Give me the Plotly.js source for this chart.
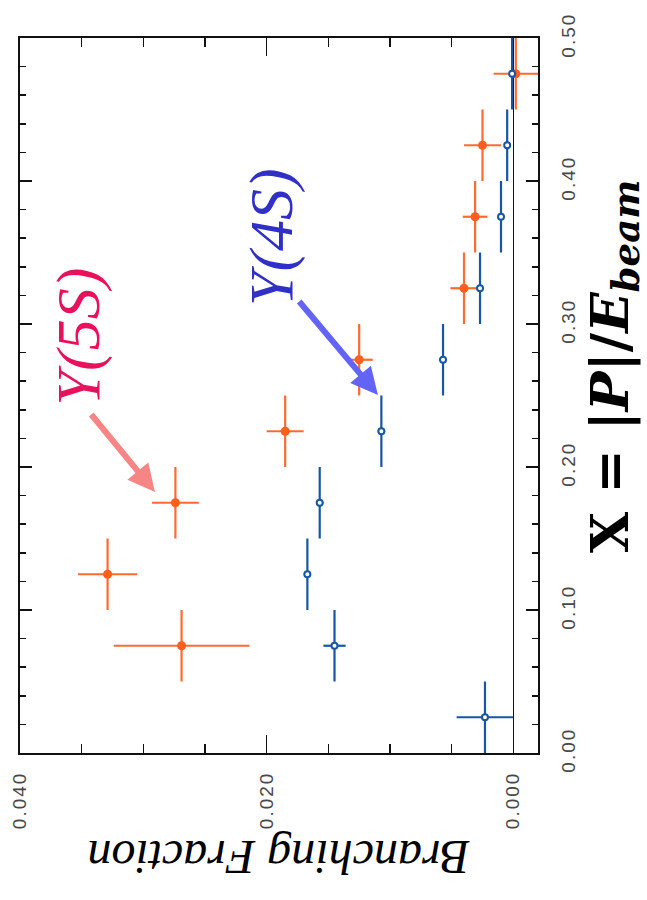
<!DOCTYPE html>
<html>
<head>
<meta charset="utf-8">
<script src="https://cdn.plot.ly/plotly-3.0.1.min.js"></script>
<style>
html,body{margin:0;padding:0;background:#fff;}
#chart{width:647px;height:900px;}
.xtick text, .ytick text{letter-spacing:2px;}
</style>
</head>
<body>
<div id="chart"></div>
<script>
// Υ(4S) data: bin centre in X = |P|/E_beam, branching fraction, errors
const xCenters4S = [0.025, 0.075, 0.125, 0.175, 0.225, 0.275, 0.325, 0.375, 0.425, 0.475];
const xHalfWidth4S = [0.025, 0.025, 0.025, 0.025, 0.025, 0.025, 0.025, 0.025, 0.025, 0.025];
const bf4S = [0.0023, 0.0145, 0.0167, 0.0157, 0.0107, 0.0057, 0.0027, 0.0010, 0.0005, 0.0001];
const bf4SErr = [0.0023, 0.0009, 0.0003, 0.0003, 0.0003, 0.0003, 0.0002, 0.0002, 0.0002, 0.0002];

// Υ(5S) data
const xCenters5S = [0.075, 0.125, 0.175, 0.225, 0.275, 0.325, 0.375, 0.425, 0.475];
const xHalfWidth5S = [0.025, 0.025, 0.025, 0.025, 0.025, 0.025, 0.025, 0.025, 0.025];
const bf5S = [0.0269, 0.0329, 0.0274, 0.0185, 0.0125, 0.0040, 0.0031, 0.0025, -0.0002];
const bf5SErr = [0.0055, 0.0024, 0.0019, 0.0015, 0.0011, 0.0011, 0.0010, 0.0015, 0.0018];

const bfTickVals = [0.04, 0.02, 0.0];
const bfTickText = ['0.040', '0.020', '0.000'];
const xTickVals = [0.0, 0.1, 0.2, 0.3, 0.4, 0.5];
const xTickText = ['0.00', '0.10', '0.20', '0.30', '0.40', '0.50'];

const orange = '#ff5e1e';
const blue = '#1656a6';

const traces = [
  {
    type: 'scatter', mode: 'markers', name: 'Υ(5S)',
    x: bf5S, y: xCenters5S,
    error_x: {type: 'data', array: bf5SErr, visible: true, color: '#ff6a30', thickness: 2.2, width: 0},
    error_y: {type: 'data', array: xHalfWidth5S, visible: true, color: '#ff6a30', thickness: 2.2, width: 0},
    marker: {color: orange, size: 9, symbol: 'circle'}
  },
  {
    type: 'scatter', mode: 'markers', name: 'Υ(4S)',
    x: bf4S, y: xCenters4S,
    error_x: {type: 'data', array: bf4SErr, visible: true, color: blue, thickness: 2.2, width: 0},
    error_y: {type: 'data', array: xHalfWidth4S, visible: true, color: blue, thickness: 2.2, width: 0},
    marker: {color: '#ffffff', size: 6, symbol: 'circle', line: {color: blue, width: 2}}
  }
];

const tickFont = {family: 'Liberation Sans, Arial, sans-serif', size: 19, color: '#484848'};

const layout = {
  width: 647, height: 900,
  margin: {l: 20, r: 109, t: 38, b: 147},
  paper_bgcolor: '#ffffff',
  plot_bgcolor: '#ffffff',
  showlegend: false,
  xaxis: {
    range: [0.040, -0.002],
    showgrid: false,
    zeroline: true, zerolinecolor: '#111', zerolinewidth: 1.5,
    showline: true, linecolor: '#111', linewidth: 2, mirror: 'allticks',
    ticks: 'inside', ticklen: 18, tickwidth: 1.5, tickcolor: '#111',
    tickvals: bfTickVals, ticktext: bfTickText,
    tickangle: -90, tickfont: tickFont, ticklabelstandoff: 9,
    minor: {dtick: 0.005, tick0: 0, ticks: 'inside', ticklen: 9, tickwidth: 1.5, tickcolor: '#111', showgrid: false}
  },
  yaxis: {
    range: [0, 0.5],
    side: 'right',
    showgrid: false, zeroline: false,
    showline: true, linecolor: '#111', linewidth: 2, mirror: 'allticks',
    ticks: 'inside', ticklen: 12, tickwidth: 1.5, tickcolor: '#111',
    tickvals: xTickVals, ticktext: xTickText,
    tickangle: -90, tickfont: tickFont, ticklabelstandoff: 12,
    minor: {dtick: 0.02, tick0: 0, ticks: 'inside', ticklen: 6, tickwidth: 1.5, tickcolor: '#111', showgrid: false}
  },
  annotations: [
    {xref: 'paper', yref: 'paper', x: 0.113, y: 0.582, text: 'Υ(5S)', showarrow: false, textangle: -90,
     font: {family: 'Liberation Serif, Times New Roman, serif', size: 62, color: '#e8125c', style: 'italic'},
     xanchor: 'center', yanchor: 'middle'},
    {xref: 'paper', yref: 'paper', x: 0.487, y: 0.722, text: 'Υ(4S)', showarrow: false, textangle: -90,
     font: {family: 'Liberation Serif, Times New Roman, serif', size: 62, color: '#3030c6', style: 'italic'},
     xanchor: 'center', yanchor: 'middle'},
    {xref: 'paper', yref: 'paper', x: 0.2606, y: 0.365, text: '', showarrow: true,
     ax: -65, ay: -79, arrowhead: 2, arrowsize: 0.9, arrowwidth: 6, arrowcolor: '#f78585', standoff: 0},
    {xref: 'paper', yref: 'paper', x: 0.691, y: 0.5007, text: '', showarrow: true,
     ax: -80, ay: -95, arrowhead: 2, arrowsize: 0.9, arrowwidth: 6, arrowcolor: '#6363f6', standoff: 0},
    {xref: 'paper', yref: 'paper', x: 0.5, y: -0.147, text: 'Branching Fraction', showarrow: false, textangle: 180,
     font: {family: 'Liberation Serif, Times New Roman, serif', size: 48, color: '#000', style: 'italic'},
     xanchor: 'center', yanchor: 'middle'},
    {xref: 'paper', yref: 'paper', x: 1.145, y: 0.54,
     text: '<b>X = |<i>P</i>|/<i>E</i><sub><i>beam</i></sub></b>', showarrow: false, textangle: -90,
     font: {family: 'DejaVu Serif, serif', size: 53, color: '#000'},
     xanchor: 'center', yanchor: 'middle'}
  ]
};

Plotly.newPlot('chart', traces, layout, {displayModeBar: false, staticPlot: true});
</script>
</body>
</html>
